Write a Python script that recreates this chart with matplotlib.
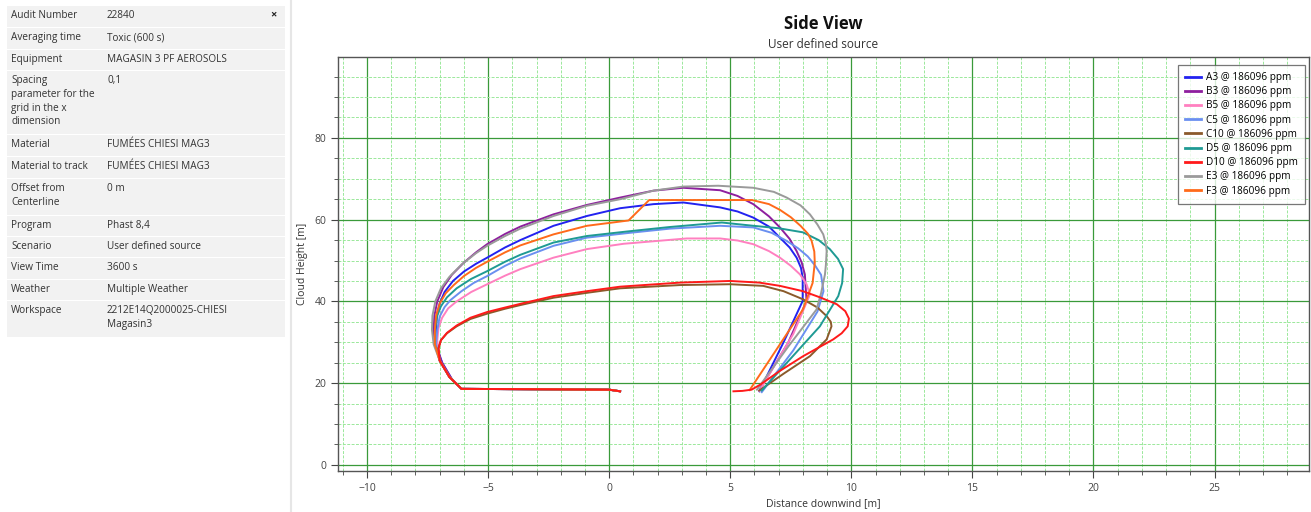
import matplotlib
matplotlib.use("Agg")
import matplotlib.pyplot as plt
from matplotlib.patches import Rectangle
from matplotlib.ticker import MultipleLocator

plt.rcParams['font.family'] = ['Open Sans', 'DejaVu Sans']

# tableau des paramètres (colonne de gauche)
info_labels = ["Audit Number", "Averaging time", "Equipment",
               "Spacing\nparameter for the\ngrid in the x\ndimension",
               "Material", "Material to track", "Offset from\nCenterline",
               "Program", "Scenario", "View Time", "Weather", "Workspace"]
info_values = ["22840", "Toxic (600 s)", "MAGASIN 3 PF AEROSOLS", "0,1",
               "FUMÉES CHIESI MAG3", "FUMÉES CHIESI MAG3", "0 m",
               "Phast 8,4", "User defined source", "3600 s",
               "Multiple Weather", "2212E14Q2000025-CHIESI\nMagasin3"]
row_tops = [6, 28, 50, 71, 135, 157, 179, 216, 237, 258, 280, 301]
row_bottoms = [27, 49, 70, 134, 156, 178, 215, 236, 257, 279, 300, 337]

# contours des nuages (distance x, hauteur y)
ground_x = [0.45, 0.0, -3.0, -6.1]
ground_y = [18.0, 18.4, 18.5, 18.6]

a3_x = [-6.5, -6.9, -7.15, -7.15, -7.12, -7.0, -6.8, -6.45, -6.0, -5.5, -5.04, -4.3, -3.67, -2.30,
        -0.92, 0.45, 1.83, 3.06, 4.58, 5.3, 5.95, 6.6, 7.05, 7.45, 7.74, 7.92, 7.99, 7.99, 7.2, 6.2]
a3_y = [21.0, 25.0, 29.5, 33.0, 36.5, 39.5, 42.3, 45.0, 47.3, 49.2, 50.7, 53.2, 55.0, 58.5,
        60.9, 62.8, 63.8, 64.2, 63.0, 62.0, 60.5, 58.3, 55.6, 53.2, 50.7, 48.2, 45.8, 40.1, 30.0, 18.0]

b3_x = [-6.5, -6.9, -7.2, -7.25, -7.22, -7.1, -6.85, -6.5, -6.0, -5.5, -5.04, -4.3, -3.67, -2.30,
        -0.92, 0.45, 1.83, 3.06, 4.58, 5.3, 5.95, 6.6, 7.05, 7.45, 7.74, 7.95, 8.08, 8.15, 7.4, 6.2]
b3_y = [21.0, 25.0, 29.5, 33.0, 36.5, 40.0, 43.5, 46.5, 49.5, 52.0, 54.0, 56.5, 58.3, 61.3,
        63.6, 65.4, 67.1, 67.8, 67.2, 65.8, 63.8, 60.8, 58.1, 55.3, 52.3, 49.5, 46.6, 40.1, 30.0, 18.2]

b5_x = [-6.6, -7.0, -7.1, -7.05, -6.9, -6.65, -6.3, -5.7, -5.04, -4.3, -3.67, -2.30, -0.92, 0.6,
        3.2, 4.58, 5.3, 5.95, 6.6, 7.05, 7.5, 7.88, 8.15, 8.29, 7.6, 6.2]
b5_y = [21.5, 25.5, 30.5, 33.5, 36.0, 38.3, 40.0, 42.3, 44.2, 46.3, 47.9, 50.7, 52.8, 54.1,
        55.4, 55.4, 54.9, 54.0, 52.3, 50.7, 48.7, 46.6, 44.2, 41.7, 32.0, 18.1]

c5_x = [-6.6, -7.0, -7.15, -7.1, -7.0, -6.8, -6.56, -6.1, -5.6, -5.04, -4.3, -3.67, -2.30, -0.92,
        0.73, 2.5, 4.58, 5.95, 6.7, 7.33, 7.8, 8.2, 8.5, 8.75, 8.85, 8.6, 7.6, 6.3]
c5_y = [21.5, 25.5, 29.5, 33.0, 36.3, 38.6, 40.3, 42.5, 44.5, 46.2, 48.7, 50.5, 53.6, 55.6,
        56.7, 57.8, 58.5, 58.1, 56.8, 54.8, 53.0, 51.0, 48.8, 46.5, 42.5, 37.5, 28.0, 17.8]

c10_x = [-6.6, -7.0, -7.05, -6.95, -6.7, -6.3, -5.73, -5.04, -4.3, -3.67, -2.30, -0.92, 0.45, 2.93,
         5.0, 6.36, 7.2, 8.01, 8.6, 8.98, 9.15, 9.18, 8.98, 8.29, 7.2, 6.2]
c10_y = [21.5, 25.5, 28.5, 30.5, 32.2, 33.9, 35.7, 37.0, 38.2, 39.1, 40.9, 42.1, 43.2, 44.0,
         44.2, 43.8, 42.5, 40.5, 38.5, 36.4, 35.0, 33.9, 30.7, 26.6, 22.3, 18.2]

d5_x = [-6.6, -7.0, -7.2, -7.2, -7.1, -6.95, -6.7, -6.3, -5.7, -5.04, -4.3, -3.67, -2.30, -0.92,
        0.73, 2.5, 4.65, 5.95, 7.0, 8.0, 8.65, 9.11, 9.45, 9.66, 9.62, 9.46, 8.70, 6.3]
d5_y = [21.5, 25.5, 29.5, 33.0, 36.5, 38.8, 41.0, 43.2, 45.5, 47.4, 49.7, 51.4, 54.4, 56.0,
        57.1, 58.2, 59.3, 58.5, 57.9, 56.9, 55.0, 52.8, 50.4, 47.9, 44.5, 41.3, 33.9, 18.2]

d10_x = [-6.6, -7.0, -7.05, -6.95, -6.7, -6.3, -5.73, -5.04, -4.3, -3.67, -2.30, -0.92, 0.45, 2.93,
         4.99, 6.2, 7.05, 8.0, 8.70, 9.4, 9.75, 9.9, 9.85, 9.6, 9.25, 8.01, 7.05, 6.23, 5.88, 5.5, 5.13]
d10_y = [21.5, 25.5, 28.5, 30.5, 32.3, 34.1, 36.0, 37.4, 38.5, 39.4, 41.3, 42.5, 43.6, 44.6,
         45.0, 44.6, 43.8, 42.5, 41.0, 39.3, 37.6, 35.8, 33.9, 32.2, 30.7, 26.6, 23.0, 19.6, 18.4, 18.1, 18.0]

e3_x = [-6.6, -7.0, -7.25, -7.32, -7.3, -7.18, -6.95, -6.6, -6.1, -5.5, -5.04, -4.3, -3.67, -2.30,
        -0.92, 0.45, 1.83, 3.06, 4.5, 5.95, 6.8, 7.33, 7.9, 8.29, 8.6, 8.84, 8.95, 8.98, 8.95, 8.91,
        8.75, 8.56, 7.4, 6.1]
e3_y = [21.5, 25.5, 29.5, 33.0, 36.5, 40.0, 43.2, 46.0, 49.0, 51.8, 53.6, 56.0, 57.8, 60.9,
        63.4, 65.0, 67.1, 68.1, 68.3, 67.8, 66.8, 65.4, 63.5, 61.3, 58.8, 56.4, 54.0, 52.3, 49.0, 46.6,
        42.0, 38.0, 29.0, 18.4]

f3_x = [-6.6, -7.0, -7.2, -7.2, -7.15, -7.0, -6.75, -6.42, -6.0, -5.5, -5.04, -4.3, -3.67, -2.30,
        -0.92, 0.8, 1.65, 5.9, 6.6, 7.05, 7.5, 7.9, 8.2, 8.36, 8.47, 8.49, 8.4, 8.0, 5.8]
f3_y = [21.5, 25.5, 29.5, 33.0, 36.5, 39.5, 42.0, 44.0, 46.2, 48.2, 49.7, 52.0, 53.7, 56.4,
        58.5, 59.8, 64.8, 64.8, 63.8, 62.4, 60.6, 58.5, 56.6, 54.8, 52.2, 49.5, 44.5, 38.0, 18.3]

series_names = ["A3", "B3", "B5", "C5", "C10", "D5", "D10", "E3", "F3"]
series_x = [a3_x, b3_x, b5_x, c5_x, c10_x, d5_x, d10_x, e3_x, f3_x]
series_y = [a3_y, b3_y, b5_y, c5_y, c10_y, d5_y, d10_y, e3_y, f3_y]
concentration = "186096"
colors = ["#2222f0", "#8e1f9e", "#ff80c0", "#6a8ff0", "#8b5a2b",
          "#1f9a94", "#ff1a1a", "#9a9a9a", "#ff6a1a"]

fig = plt.figure(figsize=(13.11, 5.12), dpi=100)

# panneau de gauche
axt = fig.add_axes([0, 0, 290 / 1311, 1])
axt.set_xlim(0, 290)
axt.set_ylim(512, 0)
axt.axis('off')
for lab, val, t, b in zip(info_labels, info_values, row_tops, row_bottoms):
    axt.add_patch(Rectangle((7, t), 278, b - t, facecolor='#f2f2f2', edgecolor='none'))
    axt.text(11, t + 4, lab, fontsize=7.2, color='#333333', va='top', ha='left', linespacing=1.35)
    axt.text(107, t + 4, val, fontsize=7.2, color='#333333', va='top', ha='left', linespacing=1.35)
axt.text(273, 15, "×", fontsize=8, fontweight='bold', color='#222222', ha='center', va='center')
fig.add_artist(plt.Line2D([291 / 1311, 291 / 1311], [0, 1], color='#e6e6e6', lw=1.5))

# graphique
ax = fig.add_axes([338 / 1311, 1 - 471 / 512, 971 / 1311, 414 / 512])
for i in range(len(series_names)):
    ax.plot(ground_x + series_x[i], ground_y + series_y[i], color=colors[i], lw=1.4,
            label=series_names[i] + " @ " + concentration + " ppm",
            zorder=4 if series_names[i] == "D10" else 3)

ax.set_xlim(-11.2, 28.9)
ax.set_ylim(-1.5, 99.8)
ax.xaxis.set_major_locator(MultipleLocator(5))
ax.xaxis.set_minor_locator(MultipleLocator(1))
ax.yaxis.set_major_locator(MultipleLocator(20))
ax.yaxis.set_minor_locator(MultipleLocator(5))
ax.grid(which='major', color='#3a9a3a', lw=0.9, zorder=1)
ax.grid(which='minor', color='#9be89b', lw=0.7, ls=(0, (3, 1.5)), zorder=0)
ax.set_axisbelow(True)
ax.tick_params(which='both', direction='out', colors='#444444', labelsize=7.5)
ax.tick_params(which='major', length=5)
ax.tick_params(which='minor', length=3)
for s in ax.spines.values():
    s.set_color('#555555')
    s.set_linewidth(1.0)

ax.set_xlabel("Distance downwind [m]", fontsize=7.5, color='#333333', labelpad=3)
ax.set_ylabel("Cloud Height [m]", fontsize=7.5, color='#333333')
ax.yaxis.set_label_coords(-0.031, 0.5)

fig.text(823 / 1311, 1 - 24 / 512, "Side View", fontsize=12, fontweight='bold',
         ha='center', va='center', color='#111111')
fig.text(823 / 1311, 1 - 44 / 512, "User defined source", fontsize=8.5,
         ha='center', va='center', color='#333333')

leg = ax.legend(loc='upper right', bbox_to_anchor=(1 - 4 / 971, 1 - 8 / 414),
                fontsize=7.2, frameon=True, fancybox=False,
                edgecolor='#555555', handlelength=1.6, handletextpad=0.5,
                labelspacing=0.32, borderpad=0.7, borderaxespad=0)
leg.get_frame().set_linewidth(0.9)
for h in leg.get_lines():
    h.set_linewidth(2.0)

fig.savefig("out.png", dpi=100)
